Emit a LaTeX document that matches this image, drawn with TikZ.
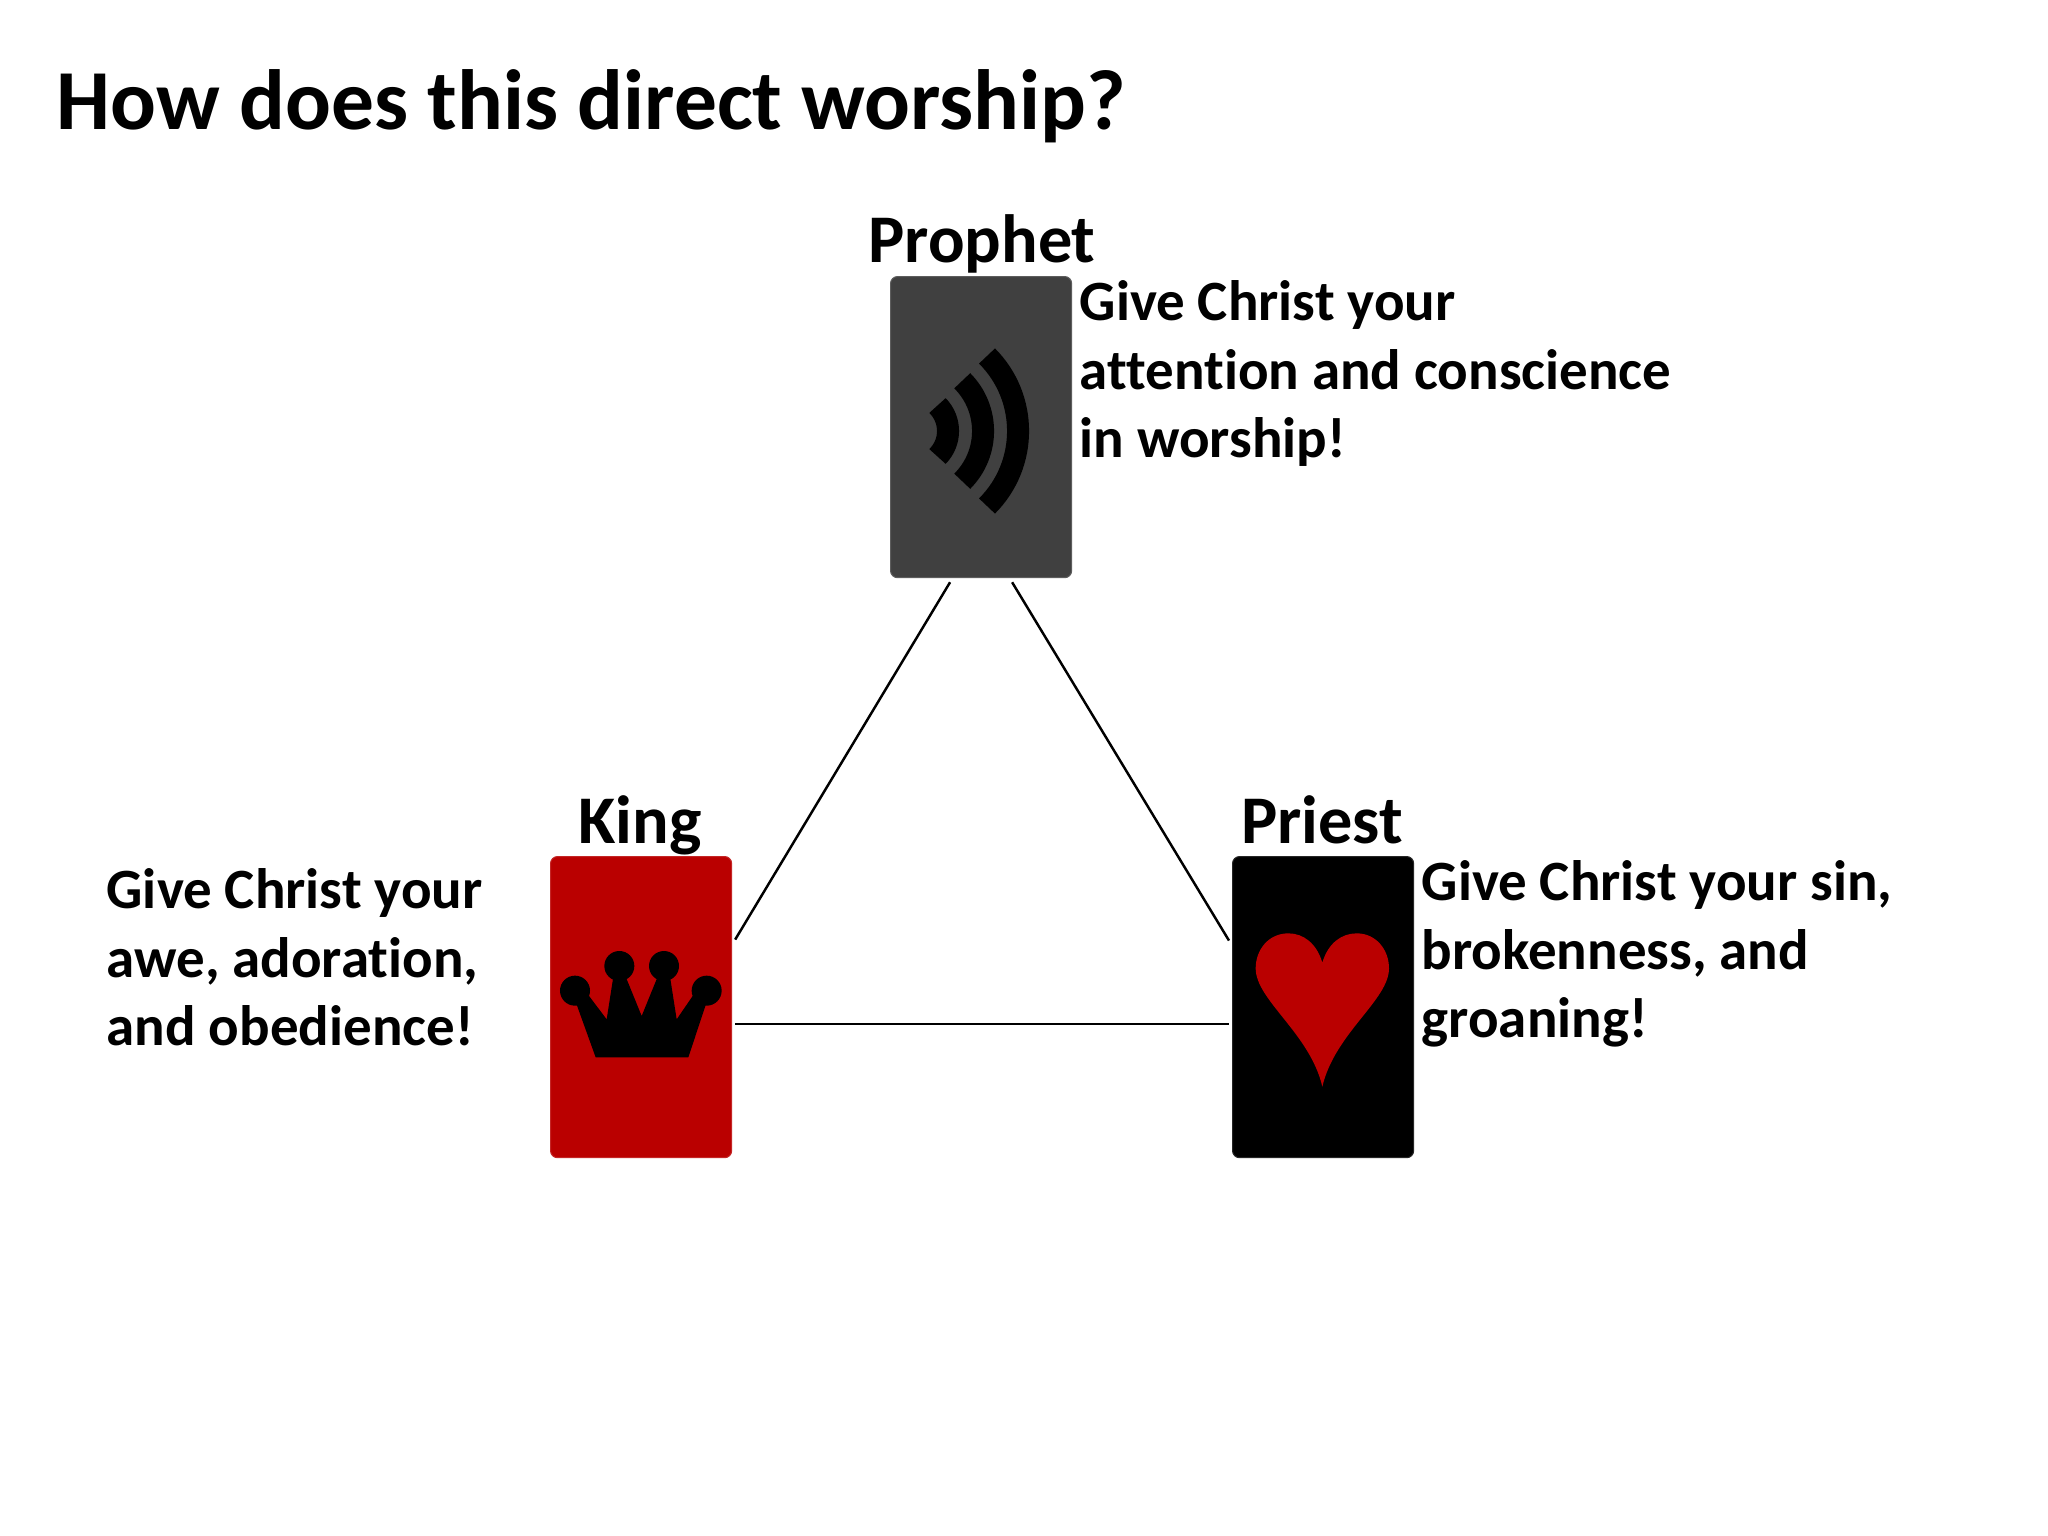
\documentclass[tikz,border=0pt]{standalone}
\usepackage{fontspec}
\setmainfont[Ligatures=NoCommon]{Carlito}
\usetikzlibrary{calc}
\definecolor{cardred}{HTML}{BA0000}
\definecolor{cardgray}{HTML}{404040}
\tikzset{
  card/.style={draw=#1!85!white,line width=.3pt,fill=#1,rounded corners=.07cm,minimum width=1.81cm,minimum height=3.01cm,inner sep=0pt,anchor=north west},
  role/.style={font=\fontsize{19.4}{23}\selectfont\bfseries,anchor=base,inner sep=0pt},
  body/.style={font=\fontsize{16.2}{19.46}\selectfont\bfseries,align=left,anchor=north west,inner sep=0pt},
  title/.style={font=\fontsize{24.3}{29}\selectfont\bfseries,anchor=base west,inner sep=0pt},
  link/.style={line width=.7pt,black},
  wave/.style={line width=.22cm,black}
}
\begin{document}
\begin{tikzpicture}[x=.01cm,y=-.01cm]
\useasboundingbox (0,0) rectangle (2048,1536);
\node[title] (head) at (56,129) {How does this direct worship?};
\node[card=cardgray] (prophet) at (890,276) {};
\node[card=cardred] (king) at (550,856) {};
\node[card=black] (priest) at (1232,856) {};
\node[role] (lprophet) at (982,262) {Prophet};
\node[role] (lking) at (640,843) {King};
\node[role] (lpriest) at (1322,843) {Priest};
\node[body] (tprophet) at (1079,280) {Give Christ your\\attention and conscience\\in worship!};
\node[body] (tking) at (106,868) {Give Christ your\\awe, adoration,\\and obedience!};
\node[body] (tpriest) at (1421,860) {Give Christ your sin,\\brokenness, and\\groaning!};
\draw[link] ([xshift=-.31cm,yshift=-.04cm]prophet.south) -- ([xshift=.03cm,yshift=.675cm]king.east);
\draw[link] ([xshift=.31cm,yshift=-.04cm]prophet.south) -- ([xshift=-.03cm,yshift=.665cm]priest.west);
\draw[link] ([xshift=.03cm,yshift=-.17cm]king.east) -- ([xshift=-.03cm,yshift=-.17cm]priest.west);
\coordinate (wc) at (912,431);
\foreach \r in {.36,.71,1.06}
  \draw[wave] ([shift={(45:\r cm)}]wc) arc[start angle=45,end angle=-45,radius=\r cm];
\begin{scope}[shift={(530,840)},x=.01cm/3,y=-.01cm/3]
\fill[black] (197,652) -- (135,480) -- (175,465) -- (230,538) -- (250,410) -- (287,410) -- (335,528) -- (383,410) -- (420,410) -- (440,538) -- (490,465) -- (532,480) -- (475,652) -- cycle;
\fill[black] (135,452) circle[radius=.15cm] (268,378) circle[radius=.15cm] (402,378) circle[radius=.15cm] (530,452) circle[radius=.15cm];
\end{scope}
\begin{scope}[shift={(1210,840)},x=.01cm/3,y=-.01cm/3]
\fill[cardred] (337,368) .. controls (320,310) and (280,280) .. (235,280) .. controls (175,280) and (137,330) .. (137,385) .. controls (137,480) and (300,580) .. (337,740) .. controls (374,580) and (537,480) .. (537,385) .. controls (537,330) and (499,280) .. (440,280) .. controls (394,280) and (354,310) .. (337,368) -- cycle;
\end{scope}
\end{tikzpicture}
\end{document}
